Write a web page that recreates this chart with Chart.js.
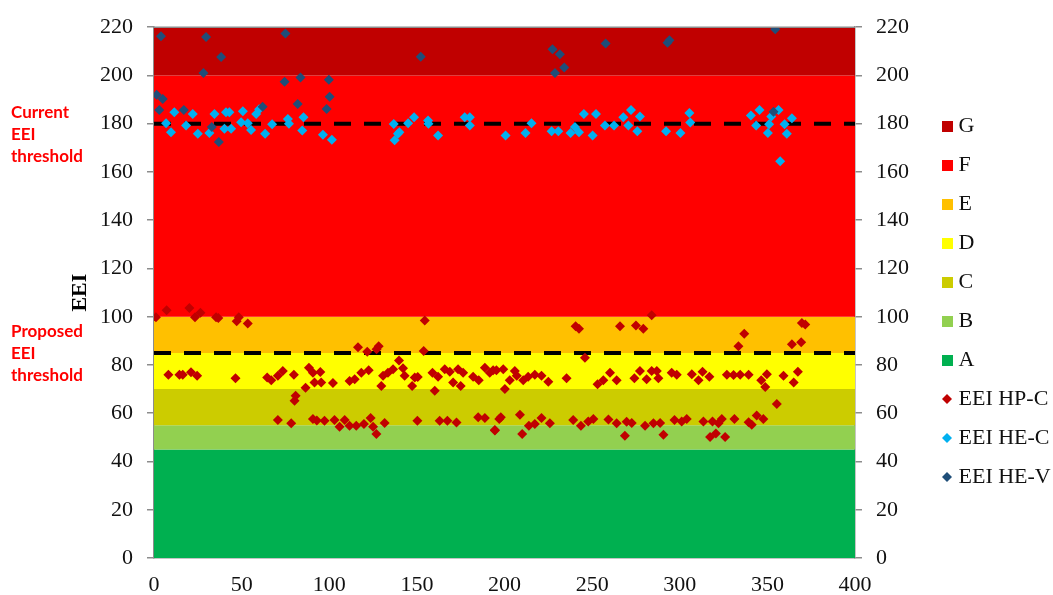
<!DOCTYPE html>
<html>
<head>
<meta charset="utf-8">
<script src="https://cdn.jsdelivr.net/npm/chart.js@4.4.0/dist/chart.umd.min.js"></script>
<style>
  html, body { margin: 0; padding: 0; background: #fff; }
  #wrap { width: 1053px; height: 595px; }
</style>
</head>
<body>
<div id="wrap"><canvas id="eeiChart" width="1053" height="595"></canvas></div>
<script>
// --- Energy classes (background bands) ---
const bandNames   = ['G', 'F', 'E', 'D', 'C', 'B', 'A'];
const bandTops    = [220, 200, 100, 85, 70, 55, 45];
const bandBottoms = [200, 100, 85, 70, 55, 45, 0];
const bandColors  = ['#c00000', '#ff0000', '#ffc000', '#ffff00', '#cccc00', '#92d050', '#00b050'];

// --- Thresholds ---
const currentThreshold = 180;
const proposedThreshold = 85;

// --- Axis ranges / tick steps ---
const xRange = [0, 400];
const xStep = 50;
const yRange = [0, 220];
const yStep = 20;

// --- Series: [product no., EEI] ---
const eeiHpC = [
  [1.1,99.8],[7.2,102.7],[20.2,103.6],[23.4,99.8],[26.5,101.6],[35.4,99.8],[36.7,99.5],[47.2,98.1],[48.4,99.8],[53.5,97.2],[154.5,98.4],
  [116.4,87.4],[121.7,85.5],[127,86.5],[128.2,87.8],[153.9,85.8],[139.8,81.9],
  [8.2,75.9],[14.5,75.9],[16.4,75.9],[21.1,77],[24.6,75.5],[46.5,74.5],[64.6,74.8],[66.9,73.7],[70.7,75.5],[73.5,77.5],[79.8,75.9],
  [86.5,70.6],[88.4,78.9],[90.7,76.8],[91.6,72.7],[95.4,72.7],[94.9,77.1],[80.8,67.2],[80.2,65.2],[102.1,72.5],[111.6,73.4],
  [114.5,74.1],[118.3,76.8],[122.5,77.8],[129.7,71.3],[130.7,75.5],[133.5,76.8],[136.4,78.2],[142.1,78.6],[143,75.5],[147.3,71.3],
  [148.8,74.8],[150.5,75],[158.9,76.8],[160.2,69.3],[162.1,75.1],[165.9,78.2],[168.8,77.2],[170.7,72.7],[173.5,78.2],[176.4,76.8],
  [175,71.3],[182.1,75.1],[185.3,73.7],[188.8,78.9],[191.6,76.8],[195.4,77.8],
  [70.7,57.2],[78.3,55.8],[90.7,57.6],[92.9,57],[97.3,56.9],[103,57.2],[105.9,54.4],[108.8,57.2],[111.6,54.8],[115.4,54.8],
  [119.8,55.5],[123.6,58],[125,54.4],[126.9,51.4],[131.6,56],[150.3,56.9],[163,56.9],[167.4,56.9],[172.6,56.2],[185,58.3],
  [188.8,58],[194.5,52.8],[197,57.6],
  [240.6,96.1],[242.5,95],[265.9,96.1],[275,96.4],[279.2,95],[284,100.6],[245.9,83],[333.5,87.8],[336.8,92.9],[364,88.6],
  [369.3,89.4],[369.7,97.4],[371.6,96.8],
  [193.5,77.8],[199.3,78.2],[203,73.7],[205.9,77.5],[207,75.5],[210.7,73.7],[213.5,75.1],[217.3,75.9],[221.1,75.5],[225,73.1],
  [200.2,70],[235.4,74.5],[253.1,72],[256.4,73.7],[260.2,76.8],[264,73.7],[274.1,74.5],[277.3,77.5],[281.1,74.1],[284,77.5],
  [286.9,77.5],[287.8,74.5],[295.4,76.8],[298.3,75.9],[306.9,76.2],[310.7,73.7],[313,77.2],[316.9,75.1],[326.9,76],[330.7,75.8],
  [334.5,76],[339.3,76],[346.5,73.7],[349.7,76.2],[348.8,70.9],[359.2,75.5],[365,72.7],[367.4,77.2],[355.4,63.8],
  [194.5,53.1],[197.9,58.3],[208.8,59.4],[210.1,51.4],[213.9,54.8],[217.3,55.5],[221.1,58],[225.9,55.8],[239.2,57.2],[243.6,54.8],
  [247.8,56.6],[250.7,57.6],[259.3,57.4],[264,55.8],[269.7,56.5],[272.6,56],[268.7,50.7],[280.2,54.8],[285,55.8],[288.8,56],
  [290.7,51.1],[297,57.2],[301.1,56.6],[304,57.6],[313.5,56.6],[318.7,56.6],[322.1,55.8],[324,57.6],[317.3,50.2],[320.6,51.6],
  [325.9,50.2],[331.2,57.6],[339.3,56.3],[341.1,55.2],[343.9,59.1],[347.7,57.6]
];
const eeiHeC = [
  [6.9,180.2],[9.7,176.5],[11.6,184.7],[18.3,179.3],[22.1,184],[25,175.8],[31.6,176.1],[34.5,184],[40.2,177.9],[41.1,184.7],
  [43,184.7],[44,177.9],[49.7,180.6],[50.7,185.2],[53.5,180.2],[55.4,177.4],[58.3,184],[60,186],[63.4,175.8],[67.4,179.8],
  [76.4,182],[77,180],[84.6,177.2],[85.3,182.7],[96.4,175.4],[101.5,173.3],[136.8,179.9],[137.3,173.1],[139.2,175.8],[140,176.5],
  [145,180.2],[148.4,182.7],[156.4,181.3],[156.6,180],[162.1,175.1],[177.3,182.7],[180.2,182.7],[180.2,179.3],[200.6,175.1],[212,176.1],
  [215.4,180.2],[226.9,176.9],[230.7,176.9],[237.7,176.1],[240.2,178.6],[242.5,176.5],[245.3,184],[250.3,175.1],[252.2,184],[257.3,179.3],
  [262.5,179.3],[267.8,182.7],[270.7,179.3],[272.2,185.7],[275.8,176.9],[277.3,183],[292.2,176.9],[300.4,176.1],[305.5,184.4],[306,180.5],
  [340.6,183.4],[343.6,179.3],[345.5,185.7],[350.3,176.1],[351,179.8],[352.2,183],[356.4,185.7],[357.3,164.4],[359.8,179.8],[361.1,175.8],
  [364,182.3]
];
const eeiHeV = [
  [1.5,192],[3,185.7],[4,216.3],[5,190.2],[17,185.7],[28.2,201],[29.7,215.9],[33,178.6],[37,172.4],[38.3,207.7],
  [62,187],[74.5,197.4],[75,217.4],[82,188.2],[83.6,199.2],[98.5,186.1],[99.8,198.2],[100.2,191.2],[152.2,207.8],[227.4,210.9],
  [228.8,201],[231.6,208.8],[234.1,203.3],[257.7,213.2],[293,213.6],[294.1,214.6],[353.5,185],[354.5,219.1]
];

const seriesNames  = ['EEI HP-C', 'EEI HE-C', 'EEI HE-V'];
const seriesData   = [eeiHpC, eeiHeC, eeiHeV];
const seriesColors = ['#c00000', '#00b0f0', '#1f4e79'];

const notes = [
  { value: currentThreshold, offset: -11, lines: ['Current', 'EEI', 'threshold'] },
  { value: proposedThreshold, offset: -21, lines: ['Proposed', 'EEI', 'threshold'] }
];

// --- helpers ---
const axisGray = '#8c8c8c';
const serif = 'Liberation Serif';

function legendIcon(color, diamond) {
  const s = diamond ? 10 : 11;
  const c = document.createElement('canvas');
  c.width = s; c.height = s;
  const g = c.getContext('2d');
  g.fillStyle = color;
  if (diamond) {
    g.beginPath();
    g.moveTo(s / 2, 0); g.lineTo(s, s / 2); g.lineTo(s / 2, s); g.lineTo(0, s / 2);
    g.closePath(); g.fill();
  } else {
    g.fillRect(0, 0, s, s);
  }
  return c;
}

const datasets = [];
bandNames.forEach((name, i) => {
  datasets.push({
    type: 'line',
    label: name,
    data: [{ x: xRange[0], y: bandTops[i] }, { x: xRange[1], y: bandTops[i] }],
    backgroundColor: bandColors[i],
    borderColor: 'transparent',
    borderWidth: 0,
    pointRadius: 0,
    fill: { value: bandBottoms[i] },
    order: 10 + i
  });
});
seriesNames.forEach((name, i) => {
  datasets.push({
    type: 'scatter',
    label: name,
    data: seriesData[i].map(p => ({ x: p[0], y: p[1] })),
    pointStyle: 'rectRot',
    pointRadius: 5,
    pointBorderWidth: 0,
    backgroundColor: seriesColors[i],
    borderColor: seriesColors[i],
    order: 3 - i
  });
});
[currentThreshold, proposedThreshold].forEach(t => {
  datasets.push({
    type: 'line',
    label: 'threshold',
    data: [{ x: xRange[0], y: t }, { x: xRange[1], y: t }],
    borderColor: '#000',
    borderWidth: 4,
    borderDash: [17, 13],
    pointRadius: 0,
    fill: false,
    order: 5
  });
});

const icons = bandColors.map(c => legendIcon(c, false)).concat(seriesColors.map(c => legendIcon(c, true)));

const notesPlugin = {
  id: 'notes',
  afterDraw(chart) {
    const { ctx, chartArea, scales } = chart;
    ctx.save();
    ctx.strokeStyle = axisGray;
    ctx.lineWidth = 1.5;
    ctx.beginPath();
    ctx.moveTo(chartArea.left, chartArea.top);
    ctx.lineTo(chartArea.right, chartArea.top);
    ctx.stroke();

    ctx.fillStyle = '#ff0000';
    ctx.font = 'bold 17px Lato';
    ctx.textBaseline = 'middle';
    notes.forEach(n => {
      const y0 = scales.y.getPixelForValue(n.value) + n.offset;
      n.lines.forEach((t, i) => ctx.fillText(t, 11, y0 + i * 22));
    });
    ctx.restore();
  }
};

const tickFont = { family: serif, size: 22 };
const gridOpts = { display: true, drawOnChartArea: false, drawTicks: true, tickLength: 7, color: axisGray, tickColor: axisGray, lineWidth: 1.5 };

new Chart(document.getElementById('eeiChart'), {
  type: 'scatter',
  data: { datasets },
  options: {
    responsive: false,
    animation: false,
    events: [],
    layout: { padding: { top: 25, bottom: 0, left: 0, right: 0 } },
    scales: {
      x: {
        type: 'linear', min: xRange[0], max: xRange[1],
        ticks: { stepSize: xStep, font: tickFont, color: '#111', padding: 14, maxRotation: 0 },
        grid: Object.assign({}, gridOpts, { drawTicks: false }),
        border: { display: true, color: axisGray, width: 1.5 },
        afterFit(s) { s.height = 37; }
      },
      y: {
        position: 'left', min: yRange[0], max: yRange[1],
        ticks: { stepSize: yStep, font: tickFont, color: '#111', padding: 14 },
        grid: gridOpts,
        border: { display: true, color: axisGray, width: 1.5 },
        title: { display: true, text: 'EEI', color: '#000', font: { family: serif, size: 22, weight: 'bold' }, padding: { top: 67, bottom: 0 } },
        afterFit(s) { s.width = 154; }
      },
      y2: {
        position: 'right', min: yRange[0], max: yRange[1],
        ticks: { stepSize: yStep, font: tickFont, color: '#111', padding: 14 },
        grid: gridOpts,
        border: { display: true, color: axisGray, width: 1.5 },
        afterFit(s) { s.width = 74.5; }
      }
    },
    plugins: {
      tooltip: { enabled: false },
      legend: {
        position: 'right',
        align: 'start',
        maxWidth: 123.5,
        title: { display: true, text: ' ', font: { size: 10 }, padding: { top: 61, bottom: 0 } },
        labels: {
          usePointStyle: true,
          pointStyleWidth: 1,
          padding: 17,
          color: '#111',
          font: { family: serif, size: 22 },
          generateLabels(chart) {
            const items = Chart.defaults.plugins.legend.labels.generateLabels(chart);
            return items
              .filter(it => it.datasetIndex < icons.length)
              .sort((a, b) => a.datasetIndex - b.datasetIndex)
              .map(it => { it.pointStyle = icons[it.datasetIndex]; return it; });
          }
        }
      }
    }
  },
  plugins: [notesPlugin]
});
</script>
</body>
</html>
